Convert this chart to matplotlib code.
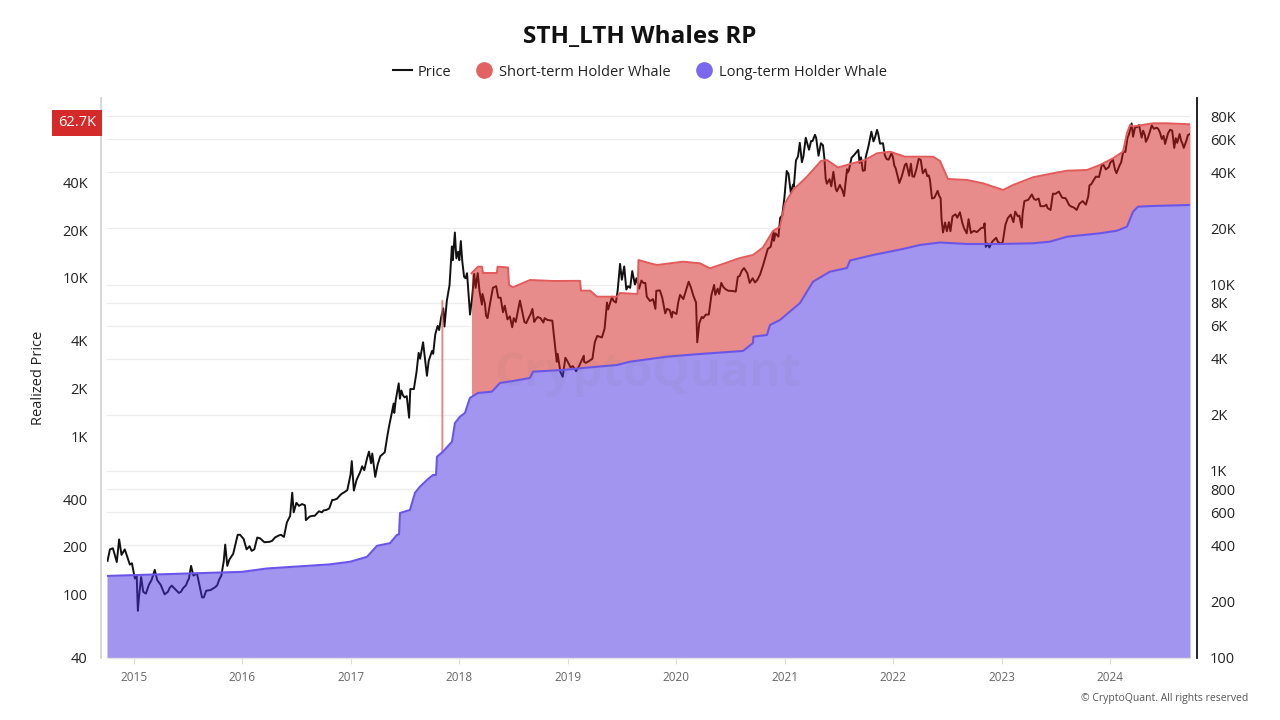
import numpy as np
import pandas as pd
import matplotlib
matplotlib.use("Agg")
import matplotlib.pyplot as plt
from matplotlib.lines import Line2D
from matplotlib.patches import Polygon
from matplotlib.ticker import FixedLocator, FixedFormatter, NullLocator

plt.rcParams['font.family'] = ['Open Sans', 'DejaVu Sans']

# ---------------- data ----------------
price_dates = (
    ['2014-10-04', '2014-10-12', '2014-10-22', '2014-11-04', '2014-11-12', '2014-11-20', '2014-12-01', '2014-12-18', '2014-12-25'] +
    ['2015-01-04', '2015-01-10', '2015-01-14', '2015-01-17', '2015-01-25', '2015-02-01', '2015-02-10', '2015-02-20', '2015-03-01', '2015-03-12',
     '2015-03-20', '2015-04-01', '2015-04-14', '2015-04-25', '2015-05-08', '2015-05-20', '2015-06-01', '2015-06-15', '2015-07-01', '2015-07-12',
     '2015-07-20', '2015-08-01', '2015-08-18', '2015-08-24', '2015-09-01', '2015-09-16', '2015-10-01', '2015-10-15', '2015-10-30', '2015-11-04',
     '2015-11-11', '2015-11-18', '2015-12-01', '2015-12-16', '2015-12-24'] +
    ['2016-01-05', '2016-01-15', '2016-01-25', '2016-02-01', '2016-02-20', '2016-03-01', '2016-03-15', '2016-04-01', '2016-04-20', '2016-05-01',
     '2016-05-20', '2016-05-30', '2016-06-10', '2016-06-17', '2016-06-22', '2016-07-01', '2016-07-20', '2016-08-01', '2016-08-02', '2016-08-15',
     '2016-09-01', '2016-09-15', '2016-10-01', '2016-10-20', '2016-10-30', '2016-11-15', '2016-12-01', '2016-12-20', '2016-12-31'] +
    ['2017-01-04', '2017-01-11', '2017-01-20', '2017-02-01', '2017-02-15', '2017-03-03', '2017-03-10', '2017-03-14', '2017-03-24', '2017-04-01',
     '2017-04-25', '2017-05-10', '2017-05-25', '2017-05-27', '2017-06-11', '2017-06-15', '2017-06-20', '2017-07-01', '2017-07-16', '2017-07-20',
     '2017-08-01', '2017-08-17', '2017-08-22', '2017-09-01', '2017-09-14', '2017-09-20', '2017-10-01', '2017-10-12', '2017-10-20', '2017-11-01',
     '2017-11-08', '2017-11-12', '2017-11-20', '2017-11-29', '2017-12-07', '2017-12-10', '2017-12-17', '2017-12-22', '2017-12-28'] +
    ['2018-01-01', '2018-01-06', '2018-01-17', '2018-01-27', '2018-02-06', '2018-02-20', '2018-02-25', '2018-03-04', '2018-03-18', '2018-03-20',
     '2018-04-01', '2018-04-06', '2018-04-24', '2018-05-05', '2018-05-20', '2018-05-28', '2018-06-03', '2018-06-12', '2018-06-28', '2018-07-10',
     '2018-07-24', '2018-08-08', '2018-08-14', '2018-08-30', '2018-09-04', '2018-09-10', '2018-09-22', '2018-10-11', '2018-10-15', '2018-11-10',
     '2018-11-14', '2018-11-25', '2018-11-28', '2018-12-07', '2018-12-15', '2018-12-24'] +
    ['2019-01-01', '2019-01-10', '2019-01-29', '2019-02-08', '2019-02-24', '2019-02-25', '2019-03-15', '2019-04-02', '2019-04-10', '2019-04-26',
     '2019-05-13', '2019-05-17', '2019-05-30', '2019-06-03', '2019-06-26', '2019-07-02', '2019-07-10', '2019-07-17', '2019-07-23', '2019-08-06',
     '2019-08-15', '2019-08-20', '2019-08-29', '2019-09-19', '2019-09-24', '2019-10-23', '2019-10-26', '2019-11-07', '2019-11-25', '2019-12-01',
     '2019-12-17', '2019-12-20'] +
    ['2020-01-02', '2020-01-14', '2020-02-12', '2020-02-20', '2020-02-28', '2020-03-08', '2020-03-12', '2020-03-19', '2020-04-01', '2020-04-29',
     '2020-05-08', '2020-05-12', '2020-05-25', '2020-06-01', '2020-06-15', '2020-07-01', '2020-07-20', '2020-07-27', '2020-08-17', '2020-09-05',
     '2020-09-15', '2020-09-23', '2020-10-10', '2020-10-21', '2020-11-05', '2020-11-24', '2020-11-26', '2020-12-01', '2020-12-11', '2020-12-17',
     '2020-12-31'] +
    ['2021-01-08', '2021-01-22', '2021-02-01', '2021-02-08', '2021-02-21', '2021-02-28', '2021-03-13', '2021-03-24', '2021-04-13', '2021-04-25',
     '2021-05-03', '2021-05-10', '2021-05-19', '2021-05-23', '2021-06-01', '2021-06-14', '2021-06-22', '2021-07-06', '2021-07-20', '2021-08-01',
     '2021-08-14', '2021-08-22', '2021-09-06', '2021-09-21', '2021-10-01', '2021-10-20', '2021-10-27', '2021-11-08', '2021-11-18', '2021-11-28',
     '2021-12-04', '2021-12-27'] +
    ['2022-01-10', '2022-01-22', '2022-02-10', '2022-02-24', '2022-03-02', '2022-03-13', '2022-03-28', '2022-04-11', '2022-04-20', '2022-05-01',
     '2022-05-12', '2022-05-31', '2022-06-10', '2022-06-18', '2022-07-01', '2022-07-13', '2022-07-30', '2022-08-14', '2022-08-28', '2022-09-12',
     '2022-09-20', '2022-10-25', '2022-11-05', '2022-11-09', '2022-11-21', '2022-12-14', '2022-12-30'] +
    ['2023-01-14', '2023-02-01', '2023-02-16', '2023-03-10', '2023-03-19', '2023-04-13', '2023-04-26', '2023-05-12', '2023-06-01', '2023-06-15',
     '2023-06-23', '2023-07-13', '2023-07-24', '2023-08-17', '2023-09-01', '2023-09-11', '2023-10-01', '2023-10-12', '2023-10-24', '2023-11-09',
     '2023-11-15', '2023-12-05', '2023-12-18'] +
    ['2024-01-02', '2024-01-11', '2024-01-23', '2024-02-01', '2024-02-15', '2024-02-29', '2024-03-14', '2024-03-19', '2024-03-26', '2024-04-01',
     '2024-04-12', '2024-04-17', '2024-04-22', '2024-05-01', '2024-05-15', '2024-05-21', '2024-06-07', '2024-06-24', '2024-07-05', '2024-07-15',
     '2024-07-29', '2024-08-05', '2024-08-23', '2024-09-06', '2024-09-15', '2024-09-26']
)
price_values = (
    [330, 380, 385, 325, 430, 355, 380, 315, 320] +
    [265, 275, 178, 205, 270, 225, 220, 245, 260, 295,
     260, 245, 218, 225, 243, 232, 222, 235, 258, 310,
     275, 282, 210, 210, 228, 230, 238, 262, 328, 403,
     310, 335, 360, 455, 455] +
    [432, 380, 395, 373, 440, 435, 415, 417, 440, 450,
     443, 530, 575, 765, 600, 675, 665, 605, 545, 570,
     575, 608, 615, 630, 700, 710, 755, 790, 960] +
    [1130, 785, 895, 985, 1010, 1270, 1100, 1240, 930, 1080,
     1260, 1750, 2300, 2050, 2950, 2440, 2700, 2480, 1930, 2750,
     2750, 4300, 4000, 4900, 3240, 3900, 4400, 5400, 6000, 6700,
     7450, 5950, 8200, 9900, 16000, 13500, 19000, 13800, 15000] +
    [13500, 17100, 11000, 11500, 6900, 11400, 9600, 11500, 7800, 8900,
     6800, 6600, 9600, 9800, 8500, 7100, 7700, 6500, 5900, 6300,
     8200, 6300, 6200, 7000, 7400, 6300, 6700, 6250, 6600, 6400,
     5600, 3850, 4250, 3400, 3200, 4050] +
    [3850, 3600, 3430, 3650, 4150, 3850, 3900, 4900, 5300, 5200,
     8000, 7350, 8600, 8200, 12900, 10600, 12500, 9400, 9800, 11800,
     10000, 10800, 9500, 10200, 8600, 7400, 9250, 9300, 7000, 7400,
     6650, 7150] +
    [6950, 8800, 10350, 9600, 8700, 8000, 4900, 6200, 6600, 8800,
     9950, 8800, 8900, 10200, 9450, 9250, 9160, 11000, 12250, 10200,
     10800, 10250, 11300, 12800, 15500, 19150, 17150, 18800, 18050, 22800,
     29000] +
    [40600, 30800, 33500, 46200, 57500, 45200, 61200, 52800, 63500, 49000,
     57200, 55800, 37000, 34700, 36700, 40200, 32500, 34200, 29800, 39900,
     47800, 49300, 52700, 40700, 48200, 66000, 58500, 67500, 56900, 57200,
     49400, 50700] +
    [41800, 35000, 43900, 38300, 44400, 37800, 47100, 39500, 41500, 38500,
     28900, 31800, 29000, 19000, 19300, 19300, 23800, 24400, 20000, 22400,
     18900, 20100, 21300, 15900, 15800, 17800, 16550] +
    [20900, 23700, 24600, 20200, 28000, 30400, 28400, 26300, 26800, 25100,
     30700, 31500, 29200, 26600, 25900, 25100, 28000, 26800, 34000, 36700,
     37900, 44000, 41400] +
    [45000, 46600, 39500, 43000, 51800, 61200, 73100, 62000, 70000, 69700,
     67000, 61300, 66800, 58200, 66200, 71400, 69300, 60300, 56700, 64700,
     66800, 54000, 64100, 54000, 59200, 64000]
)
# additional intermediate price readings (merged and sorted below)
price_dates_extra = (
    ['2015-05-01', '2015-06-08', '2015-06-25', '2015-07-05', '2015-09-25', '2015-10-08', '2015-10-22'] +
    ['2016-02-10', '2016-03-25', '2016-04-10', '2016-05-10', '2016-07-10', '2016-07-30', '2016-08-25', '2016-09-25',
     '2016-10-10', '2016-11-05', '2016-11-25', '2016-12-10'] +
    ['2017-02-08', '2017-02-25', '2017-04-10', '2017-05-04', '2017-06-01', '2017-06-25', '2017-07-08', '2017-08-10',
     '2017-10-05', '2017-10-25'] +
    ['2018-01-11', '2018-01-22', '2018-02-13', '2018-03-10', '2018-03-28', '2018-04-15', '2018-05-12', '2018-06-20',
     '2018-07-03', '2018-07-18', '2018-08-20', '2018-09-15', '2018-10-01', '2018-10-25'] +
    ['2019-01-18', '2019-03-03', '2019-03-25', '2019-04-18', '2019-05-05', '2019-06-12', '2019-06-18', '2019-07-30',
     '2019-09-06', '2019-09-12', '2019-10-05', '2019-10-15', '2019-11-15', '2019-12-10'] +
    ['2020-01-08', '2020-01-25', '2020-02-03', '2020-03-27', '2020-04-10', '2020-04-20', '2020-05-20', '2020-06-08',
     '2020-06-25', '2020-07-10', '2020-08-02', '2020-08-10', '2020-08-28', '2020-10-01', '2020-11-15', '2020-12-24'] +
    ['2021-01-03', '2021-01-14', '2021-01-29', '2021-02-15', '2021-03-05', '2021-03-31', '2021-04-05', '2021-04-17',
     '2021-05-15', '2021-06-07', '2021-06-26', '2021-07-15', '2021-07-30', '2021-08-05', '2021-09-10', '2021-09-15',
     '2021-09-28', '2021-10-10', '2021-11-01', '2021-11-12', '2021-12-10', '2021-12-17'] +
    ['2022-01-01', '2022-01-05', '2022-01-30', '2022-02-15', '2022-03-07', '2022-03-20', '2022-04-04', '2022-04-26',
     '2022-05-05', '2022-05-20', '2022-06-05', '2022-06-13', '2022-06-25', '2022-07-08', '2022-07-20', '2022-08-05',
     '2022-08-22', '2022-09-06', '2022-09-30', '2022-10-10', '2022-11-02', '2022-11-14', '2022-12-01', '2022-12-20'] +
    ['2023-01-05', '2023-01-22', '2023-02-10', '2023-02-25', '2023-03-02', '2023-03-13', '2023-04-01', '2023-04-20',
     '2023-05-06', '2023-05-25', '2023-06-05', '2023-07-01', '2023-08-05', '2023-08-25', '2023-09-20', '2023-10-20',
     '2023-10-30', '2023-11-25', '2023-12-10', '2023-12-28'] +
    ['2024-01-18', '2024-02-08', '2024-02-22', '2024-03-05', '2024-03-10', '2024-04-08', '2024-04-28', '2024-05-08',
     '2024-05-28', '2024-06-12', '2024-06-18', '2024-06-30', '2024-07-22', '2024-08-10', '2024-08-15', '2024-08-28',
     '2024-09-01', '2024-09-20']
)
price_values_extra = (
    [236, 225, 244, 265, 235, 244, 275] +
    [380, 416, 422, 455, 650, 655, 575, 600,
     618, 700, 740, 770] +
    [1060, 1180, 1200, 1550, 2400, 2550, 2520, 3400,
     4250, 5700] +
    [13300, 10800, 8500, 9200, 7900, 8000, 8500, 6750,
     6600, 7300, 6500, 6500, 6600, 6450] +
    [3650, 3800, 4000, 5250, 5800, 8000, 9300, 9600,
     10500, 10200, 8150, 8350, 8500, 7300] +
    [8050, 8350, 9300, 6700, 6900, 6900, 9500, 9700,
     9250, 9230, 11100, 11900, 11500, 10600, 15950, 23500] +
    [32800, 39200, 34300, 48700, 48500, 58800, 58800, 61200,
     47000, 33600, 31600, 31800, 41500, 40800, 44900, 48100,
     41000, 55000, 61300, 64200, 47100, 46700] +
    [47700, 43500, 37900, 44500, 38000, 41300, 46600, 38100,
     36500, 29200, 29900, 22500, 21500, 21600, 23200, 22800,
     21400, 18800, 19400, 19100, 20200, 16600, 17000, 16900] +
    [16850, 22700, 21600, 23200, 23400, 24100, 28450, 28800,
     28900, 26300, 25700, 30600, 29000, 26100, 27100, 29700,
     34500, 37700, 43800, 42600] +
    [41300, 45300, 51300, 63800, 68900, 71600, 63100, 61200,
     68400, 68300, 65100, 62700, 67600, 60900, 57500, 59000,
     57300, 63200]
)

# Long-term holder whale realized price (decimal year, value on left axis)
lth_t = [2014.751, 2015.996, 2016.226, 2016.807, 2016.992, 2017.149, 2017.241, 2017.361, 2017.425, 2017.444,
         2017.453, 2017.545, 2017.591, 2017.637, 2017.702, 2017.757, 2017.785, 2017.794, 2017.849, 2017.932,
         2017.960, 2018.006, 2018.052, 2018.098, 2018.172, 2018.301, 2018.375, 2018.495, 2018.652, 2018.679,
         2018.956, 2019.141, 2019.454, 2019.574, 2019.915, 2020.219, 2020.616, 2020.708, 2020.712, 2020.837,
         2020.865, 2020.957, 2021.142, 2021.262, 2021.418, 2021.575, 2021.603, 2021.815, 2022.091, 2022.248,
         2022.433, 2022.682, 2022.986, 2023.290, 2023.447, 2023.604, 2023.908, 2024.065, 2024.157, 2024.213,
         2024.259, 2024.397, 2024.738]
lth_v = [131, 139, 146, 155, 161, 173, 203, 211, 238, 240,
         327, 342, 438, 480, 529, 569, 569, 742, 798, 923,
         1212, 1328, 1402, 1744, 1875, 1911, 2168, 2232, 2332, 2556,
         2620, 2697, 2817, 2955, 3179, 3306, 3455, 3880, 4252, 4359,
         5041, 5420, 6940, 9464, 10945, 11550, 12884, 13952, 15228, 16140,
         16736, 16376, 16376, 16544, 16936, 18208, 19128, 19868, 21060, 26204,
         28176, 28464, 28880]

# Short-term holder whale realized price
sth_t = [2018.112, 2018.172, 2018.209, 2018.218, 2018.347, 2018.352, 2018.449, 2018.458, 2018.495, 2018.652,
         2018.864, 2019.113, 2019.122, 2019.205, 2019.270, 2019.454, 2019.482, 2019.643, 2019.652, 2019.758,
         2019.823, 2020.063, 2020.219, 2020.311, 2020.403, 2020.588, 2020.708, 2020.800, 2020.892, 2020.957,
         2021.003, 2021.077, 2021.206, 2021.335, 2021.390, 2021.492, 2021.630, 2021.741, 2021.852, 2021.972,
         2022.110, 2022.368, 2022.433, 2022.506, 2022.682, 2022.829, 2023.014, 2023.106, 2023.290, 2023.475,
         2023.604, 2023.788, 2023.908, 2024.028, 2024.120, 2024.157, 2024.185, 2024.213, 2024.397, 2024.526,
         2024.738]
sth_v = [10693, 11768, 11768, 10740, 10740, 11768, 11636, 9020, 8724, 9700,
         9560, 9580, 8304, 8304, 7608, 7608, 8028, 7912, 12972, 12368,
         12068, 12660, 12368, 11496, 12068, 13360, 13952, 15560, 19784, 21060,
         29600, 35924, 43584, 54760, 55560, 49824, 52972, 55560, 61252, 62696,
         58304, 58304, 54760, 42156, 41540, 39600, 35924, 38624, 43212, 45804,
         47560, 48040, 51672, 56960, 62696, 82280, 92440, 90500, 94760, 94760,
         93400]

# short isolated STH print in late 2017
spike_t = [2017.833, 2017.845]
spike_v = [7250, 7250]

last_label = '62.7K'

left_ticks = [40, 100, 200, 400, 1000, 2000, 4000, 10000, 20000, 40000]
left_labels = ['40', '100', '200', '400', '1K', '2K', '4K', '10K', '20K', '40K']
right_ticks = [100, 200, 400, 600, 800, 1000, 2000, 4000, 6000, 8000, 10000, 20000, 40000, 60000, 80000]
right_labels = ['100', '200', '400', '600', '800', '1K', '2K', '4K', '6K', '8K', '10K', '20K', '40K', '60K', '80K']
year_ticks = list(range(2015, 2025))

# ---------------- helpers ----------------
def to_year(ds):
    d = pd.to_datetime(pd.Series(ds))
    nd = np.where(d.dt.is_leap_year, 366.0, 365.0)
    return (d.dt.year + (d.dt.dayofyear - 1) / nd).to_numpy()

pt_all = to_year(list(price_dates) + list(price_dates_extra))
pv_all = np.array(list(price_values) + list(price_values_extra), float)
order = np.argsort(pt_all, kind='stable')
pt = pt_all[order]
pv = pv_all[order]

lth_t_a = np.array(lth_t); lth_v_a = np.array(lth_v, float)
sth_t_a = np.array(sth_t); sth_v_a = np.array(sth_v, float)

RED_FILL = (211/255, 25/255, 25/255)
PUR_FILL = (69/255, 45/255, 225/255)

fig = plt.figure(figsize=(12.8, 7.2), dpi=100)
L, R = 107/1280, 1190/1280
B, T = (720-657.5)/720, (720-98)/720
ax = fig.add_axes([L, B, R-L, T-B])      # realized prices, left axis
axp = ax.twinx()                          # price, right axis
ax.set_zorder(2); axp.set_zorder(1)
ax.patch.set_visible(False)

ax.set_yscale('log')
ax.set_ylim(40, 136900)
ax.set_xlim(lth_t[0], lth_t[-1])

# envelope of the filled areas (gridlines only shown above it)
grid_t = np.union1d(lth_t_a, sth_t_a)
env = np.interp(grid_t, lth_t_a, lth_v_a)
inside = grid_t >= sth_t_a[0]
env[inside] = np.maximum(env[inside], np.interp(grid_t[inside], sth_t_a, sth_v_a))
clip_verts = np.column_stack([np.r_[grid_t, grid_t[-1], grid_t[0]],
                              np.r_[env, 1e8, 1e8]])
clip_poly = Polygon(clip_verts, closed=True, transform=ax.transData)

# price
axp.plot(pt, pv, color='#111111', lw=1.4, solid_joinstyle='round')
axp.set_yscale('log')
axp.set_ylim(100, 100000)
axp.yaxis.set_major_locator(FixedLocator(right_ticks))
axp.yaxis.set_major_formatter(FixedFormatter(right_labels))
axp.yaxis.set_minor_locator(NullLocator())
for v in right_ticks:
    gl = axp.axhline(v, color='#ececec', lw=0.9, zorder=0)
    gl.set_clip_path(clip_poly)
axp.tick_params(axis='y', length=0, pad=9.5, labelsize=10.5, labelcolor='#222222')
for s in ['left', 'top', 'bottom']:
    axp.spines[s].set_visible(False)
axp.spines['right'].set_position(('outward', 5))
axp.spines['right'].set_color('#111111')
axp.spines['right'].set_linewidth(1.3)

# realized prices
rt = grid_t[inside]
base = np.interp(rt, lth_t_a, lth_v_a)
top = np.interp(rt, sth_t_a, sth_v_a)
ax.fill_between(rt, base, top, color=RED_FILL, alpha=0.5, lw=0)
sp_t = np.array(spike_t)
ax.fill_between(sp_t, np.interp(sp_t, lth_t_a, lth_v_a), spike_v, color=RED_FILL, alpha=0.5,
                lw=0.8, edgecolor=(0.9, 0.5, 0.5))
ax.plot(sth_t_a, sth_v_a, color='#e35a5a', lw=1.4)
ax.fill_between(lth_t_a, 1, lth_v_a, color=PUR_FILL, alpha=0.5, lw=0)
ax.plot(lth_t_a, lth_v_a, color='#6a55e8', lw=1.5)

ax.yaxis.set_major_locator(FixedLocator(left_ticks))
ax.yaxis.set_major_formatter(FixedFormatter(left_labels))
ax.yaxis.set_minor_locator(NullLocator())
ax.tick_params(axis='y', length=0, pad=9.5, labelsize=10.5, labelcolor='#222222')
ax.xaxis.set_major_locator(FixedLocator(year_ticks))
ax.xaxis.set_major_formatter(FixedFormatter([str(y) for y in year_ticks]))
ax.xaxis.set_minor_locator(NullLocator())
ax.tick_params(axis='x', length=4, color='#dddddd', pad=6, labelsize=8.5, labelcolor='#666666')
for s in ['right', 'top']:
    ax.spines[s].set_visible(False)
ax.spines['left'].set_position(('outward', 4.3))
ax.spines['left'].set_color('#d4d4d4')
ax.spines['left'].set_linewidth(1.3)
ax.spines['bottom'].set_color('#e2e2e2')
ax.spines['bottom'].set_linewidth(1.0)

# texts
fig.text(0.5, 1-37/720, 'STH_LTH Whales RP', ha='center', va='center', fontsize=17.5,
         fontweight='bold', color='#111111')
fig.text(38/1280, 1-378/720, 'Realized Price', rotation=90, ha='center', va='center',
         fontsize=10.5, color='#222222')
fig.text(77/1280, 1-123/720, last_label, ha='center', va='center', fontsize=10.5, color='white',
         bbox=dict(boxstyle='square,pad=0.38', fc='#d42a2a', ec='none'))
fig.text(1248/1280, 1-698/720, '\u00a9 CryptoQuant. All rights reserved', ha='right', va='center',
         fontsize=7.5, color='#555555')
fig.text(648/1280, 1-373/720, 'CryptoQuant', ha='center', va='center', fontsize=34,
         fontweight='bold', color='#777777', alpha=0.07)

handles = [Line2D([], [], color='#111111', lw=1.5),
           Line2D([], [], marker='o', ls='', ms=11, mfc='#e36363', mec='#e36363'),
           Line2D([], [], marker='o', ls='', ms=11, mfc='#7b68ee', mec='#7b68ee')]
fig.legend(handles, ['Price', 'Short-term Holder Whale', 'Long-term Holder Whale'],
           loc='center', bbox_to_anchor=(0.5, 1-72/720), ncol=3, frameon=False,
           fontsize=10.5, handlelength=1.3, handletextpad=0.4, columnspacing=1.6,
           labelcolor='#222222')

fig.savefig('out.png', dpi=100, facecolor='white')
